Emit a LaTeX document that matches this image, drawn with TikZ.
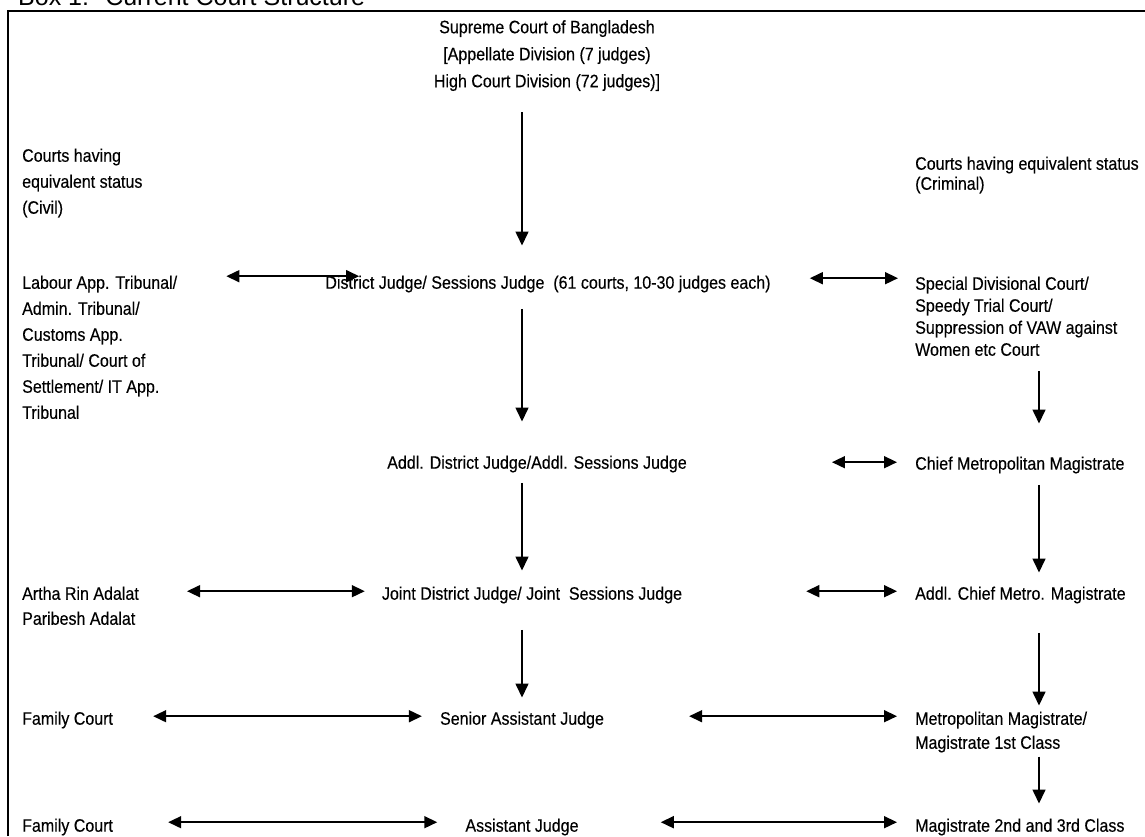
\documentclass[tikz,border=0pt]{standalone}
\usepackage{fontspec}
\setmainfont{Liberation Sans}
\newfontfamily\narrowsf{Liberation Sans}[FakeStretch=0.89, FakeBold=0.3]
\usetikzlibrary{arrows.meta}

\begin{document}
\begin{tikzpicture}[x=1pt, y=-1pt,
  court/.style={font=\narrowsf\fontsize{18pt}{26pt}\selectfont, inner sep=0pt, align=left},
  one/.style={court, text height=13pt, text depth=4pt},
  down/.style={-{Triangle[length=14pt, width=13pt]}, line width=1.6pt},
  both/.style={{Triangle[length=13pt, width=12pt]}-{Triangle[length=13pt, width=12pt]}, line width=1.6pt}
]
\useasboundingbox (0,0) rectangle (1145,836);

% title and frame
\node[anchor=base west, inner sep=0pt, font=\fontsize{25pt}{30pt}\selectfont] (title) at (18,5) {Box 1:~ Current Court Structure};
\draw[line width=1.3pt] (8,836) -- (8,11) -- (1145,11);

% centre column
\node[court, anchor=north, align=center, font=\narrowsf\fontsize{18pt}{27pt}\selectfont] (sup) at (547,20) {Supreme Court of Bangladesh\\{[}Appellate Division (7 judges)\\High Court Division (72 judges)]};
\node[one, anchor=north] (dist) at (548,275.5) {District Judge/ Sessions Judge~ (61 courts, 10-30 judges each)};
\node[one, anchor=north] (addl) at (537,455.5) {Addl. District Judge/Addl. Sessions Judge};
\node[one, anchor=north] (joint) at (532,586.5) {Joint District Judge/ Joint~ Sessions Judge};
\node[one, anchor=north] (sen) at (522,711.5) {Senior Assistant Judge};
\node[one, anchor=north] (asst) at (522,818.5) {Assistant Judge};

% civil side
\node[court, anchor=north west] (civ) at (22,148.5) {Courts having\\equivalent status\\(Civil)};
\node[court, anchor=north west] (lab) at (22,275.5) {Labour App. Tribunal/\\Admin. Tribunal/\\Customs App.\\Tribunal/ Court of\\Settlement/ IT App.\\Tribunal};
\node[court, anchor=north west, font=\narrowsf\fontsize{18pt}{25pt}\selectfont] (artha) at (22,586.5) {Artha Rin Adalat\\Paribesh Adalat};
\node[one, anchor=north west] (fam1) at (22,711.5) {Family Court};
\node[one, anchor=north west] (fam2) at (22,818.5) {Family Court};

% criminal side
\node[court, anchor=north west, font=\narrowsf\fontsize{18pt}{20pt}\selectfont] (crim) at (915,156.5) {Courts having equivalent status\\(Criminal)};
\node[court, anchor=north west, font=\narrowsf\fontsize{18pt}{22pt}\selectfont] (spec) at (915,276.5) {Special Divisional Court/\\Speedy Trial Court/\\Suppression of VAW against\\Women etc Court};
\node[one, anchor=north west] (cmm) at (915,456.5) {Chief Metropolitan Magistrate};
\node[one, anchor=north west] (acmm) at (915,586.5) {Addl. Chief Metro. Magistrate};
\node[court, anchor=north west, font=\narrowsf\fontsize{18pt}{24pt}\selectfont] (mm) at (915,711.5) {Metropolitan Magistrate/\\Magistrate 1st Class};
\node[one, anchor=north west] (m23) at (915,818.5) {Magistrate 2nd and 3rd Class};

% downward arrows
\coordinate (cax) at (522,0);
\coordinate (rax) at (1039,0);
\draw[down, shorten <=21pt, shorten >=30pt] (sup.south -| cax) -- (dist.north -| cax);
\draw[down, shorten <=16pt, shorten >=34pt] (dist.south -| cax) -- (addl.north -| cax);
\draw[down, shorten <=10pt, shorten >=16pt] (addl.south -| cax) -- (joint.north -| cax);
\draw[down, shorten <=26pt, shorten >=14pt] (joint.south -| cax) -- (sen.north -| cax);
\draw[down, shorten <=15pt, shorten >=33pt] (spec.south -| rax) -- (cmm.north -| rax);
\draw[down, shorten <=11pt, shorten >=14pt] (cmm.south -| rax) -- (acmm.north -| rax);
\draw[down, shorten <=29pt, shorten >=6pt] (acmm.south -| rax) -- (mm.north -| rax);
\draw[down, shorten <=4pt, shorten >=15pt] (mm.south -| rax) -- (m23.north -| rax);

% equivalent status arrows
\draw[both, shorten <=49pt, shorten >=-34pt] ([yshift=8pt]lab.east |- dist.west) -- ([yshift=8pt]dist.west);
\draw[both, shorten <=39pt, shorten >=17pt] ([yshift=6pt]dist.east) -- ([yshift=6pt]spec.west |- dist.east);
\draw[both, shorten <=145pt, shorten >=18pt] ([yshift=2pt]addl.east) -- ([yshift=2pt]cmm.west |- addl.east);
\draw[both, shorten <=48pt, shorten >=17pt] ([yshift=4pt]artha.east |- joint.west) -- ([yshift=4pt]joint.west);
\draw[both, shorten <=124pt, shorten >=18pt] ([yshift=4pt]joint.east) -- ([yshift=4pt]acmm.west |- joint.east);
\draw[both, shorten <=40pt, shorten >=18pt] ([yshift=4pt]fam1.east |- sen.west) -- ([yshift=4pt]sen.west);
\draw[both, shorten <=85pt, shorten >=18pt] ([yshift=4pt]sen.east) -- ([yshift=4pt]mm.west |- sen.east);
\draw[both, shorten <=55pt, shorten >=28pt] ([yshift=5pt]fam2.east |- asst.west) -- ([yshift=5pt]asst.west);
\draw[both, shorten <=82pt, shorten >=18pt] ([yshift=5pt]asst.east) -- ([yshift=5pt]m23.west |- asst.east);
\end{tikzpicture}
\end{document}
